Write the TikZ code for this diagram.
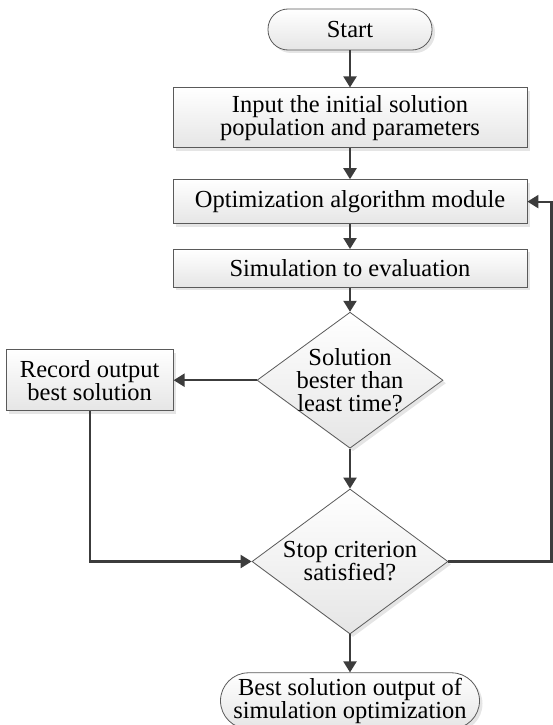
\documentclass[tikz,border=0pt]{standalone}
\usepackage{fontspec}
\setmainfont{Liberation Serif}
\usepackage{tikz}
\usetikzlibrary{positioning}
\usetikzlibrary{shapes.geometric, shadows, arrows.meta}
\definecolor{edge}{RGB}{90,90,90}
\definecolor{wire}{RGB}{60,60,60}

\begin{document}
\begin{tikzpicture}[x=1pt, y=1pt, >={Triangle[width=13pt, length=11pt]},
    main/.style = {rectangle, draw=edge, line width=0.8pt, top color=white, bottom color=black!10,
        drop shadow={shadow xshift=3pt, shadow yshift=-3pt, fill=black!10, opacity=1},
        align=center, inner sep=0pt, font=\fontsize{24.5}{23}\selectfont},
    term/.style = {main, rounded corners=20pt},
    dec/.style = {main, diamond, aspect=1.36, inner ysep=-7pt},
    link/.style = {->, color=wire, line width=2.2pt}]
    \useasboundingbox (0,0) rectangle (553,-725);
        \node[term, minimum width=164pt, minimum height=41pt] (1) at (350,-29.5) {Start};
        \node[main, minimum width=354pt, minimum height=60pt] (2) [below=37pt of 1] {Input the initial solution\\population and parameters};
        \node[main, minimum width=354pt, minimum height=44pt] (3) [below=31pt of 2] {Optimization algorithm module};
        \node[main, minimum width=354pt, minimum height=38pt] (4) [below=25pt of 3] {Simulation to evaluation};
        \node[dec, minimum width=186pt, minimum height=136pt] (5) [below=24pt of 4] {Solution\\bester than\\least time?};
        \node[main, minimum width=167pt, minimum height=61pt] (r) [left=83pt of 5] {Record output\\best solution};
        \node[dec, minimum width=196pt, minimum height=145pt] (6) [below=40pt of 5] {Stop criterion\\satisfied?};
        \node[term, rounded corners=28pt, minimum width=259pt, minimum height=56pt] (7) [below=38pt of 6] {Best solution output of\\simulation optimization};
        \coordinate[right=103pt of 6] (8); % loop back up the right side
        \draw[link] (1) -- (2);
        \draw[link] (2) -- (3);
        \draw[link] (3) -- (4);
        \draw[link] (4) -- (5);
        \draw[link] (5) -- (r);
        \draw[link] (5) -- (6);
        \draw[link] (r) |- (6);
        \draw[link] (6) -- (7);
        \draw[link] (6) -- (8) |- (3);
    \end{tikzpicture}
\end{document}
